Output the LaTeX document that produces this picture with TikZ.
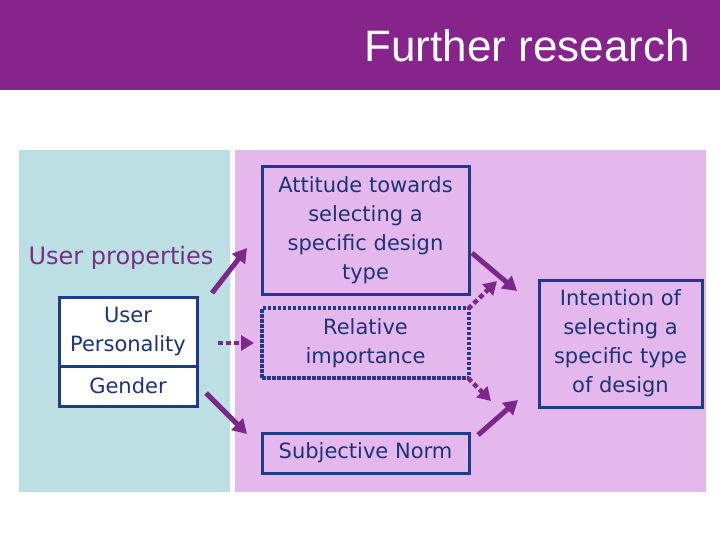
\documentclass[tikz,border=0pt]{standalone}
\usepackage{fontspec}
\setmainfont{DejaVu Sans}
\newfontfamily\titlefont{Liberation Sans}
\usetikzlibrary{arrows.meta}
\definecolor{hdr}{RGB}{134,36,140}
\definecolor{tealbg}{RGB}{188,223,227}
\definecolor{pinkbg}{RGB}{228,184,236}
\definecolor{boxc}{RGB}{30,58,138}
\definecolor{txtc}{RGB}{28,52,118}
\definecolor{arrc}{RGB}{124,40,138}
\definecolor{lblc}{RGB}{123,45,133}
\begin{document}
\begin{tikzpicture}[x=1pt,y=-1pt,
  box/.style={draw=boxc, line width=3pt, text=txtc, align=center, inner sep=0pt,
    font=\fontsize{21}{29}\selectfont},
  dotbox/.style={box, line width=3.5pt, dash pattern=on 3.5pt off 1.5pt},
  arr/.style={draw=arrc, line width=5pt, -{Triangle[length=14pt,width=16pt]}},
  darr/.style={draw=arrc, line width=4.5pt, dash pattern=on 5pt off 3pt, -{Triangle[length=13pt,width=15pt]}}]
\useasboundingbox (0,0) rectangle (720,540);
\fill[hdr] (0,0) rectangle (720,90);
\node[anchor=east, text=white, inner sep=0pt, font=\titlefont\fontsize{44}{44}\selectfont] (title) at (690,46) {Further research};
\fill[tealbg] (19,150) rectangle (230,492);
\fill[pinkbg] (235,150) rectangle (706,492);

\node[text=lblc, inner sep=0pt, font=\fontsize{24}{28}\selectfont] (uprop) at (121,258) {User properties};
\node[box, fill=white, minimum width=138pt, minimum height=69pt] (up) at (128,331.5) {User\\Personality};
\node[box, fill=white, minimum width=138pt, minimum height=40pt] (gen) at (128,386) {Gender};

\node[box, minimum width=207pt, minimum height=127pt] (att) at (365.5,230.5) {Attitude towards\\selecting a\\specific design\\type};
\node[dotbox, minimum width=207pt, minimum height=70pt] (rel) at (365.5,343) {Relative\\importance};
\node[box, minimum width=207pt, minimum height=40pt] (sub) at (365.5,453) {Subjective Norm};
\node[box, minimum width=163pt, minimum height=127pt] (int) at (620.5,343.5) {Intention of\\selecting a\\specific type\\of design};

\coordinate (a1s) at (212,293); \coordinate (a1e) at (247,248);
\coordinate (a2s) at (218,343); \coordinate (a2e) at (254,343);
\coordinate (a3s) at (206,393); \coordinate (a3e) at (247,434);
\coordinate (a4s) at (472,253); \coordinate (a4e) at (517,291);
\coordinate (a5s) at (468,309); \coordinate (a5e) at (497,281);
\coordinate (a6s) at (468,378); \coordinate (a6e) at (491,401);
\coordinate (a7s) at (478,435); \coordinate (a7e) at (518,400);

\draw[arr] (a1s) -- (a1e);
\draw[darr] (a2s) -- (a2e);
\draw[arr] (a3s) -- (a3e);
\draw[arr] (a4s) -- (a4e);
\draw[darr] (a5s) -- (a5e);
\draw[darr] (a6s) -- (a6e);
\draw[arr] (a7s) -- (a7e);
\end{tikzpicture}
\end{document}
